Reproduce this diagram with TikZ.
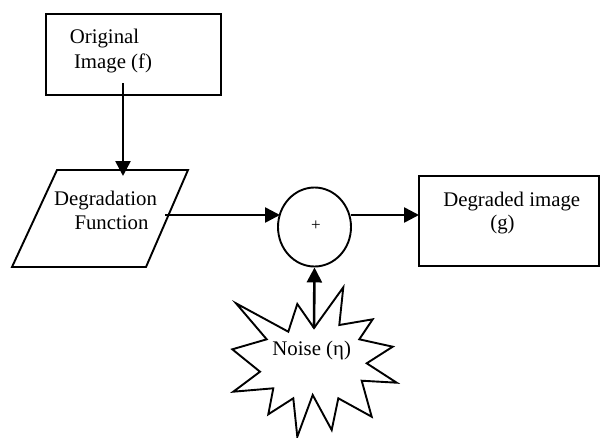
\documentclass[tikz,border=0pt]{standalone}
\usepackage{fontspec}
\setmainfont{Liberation Serif}
\usetikzlibrary{arrows.meta,shapes.geometric}
\begin{document}
\begin{tikzpicture}[x=1pt,y=-1pt,line width=1.9pt,
  lbl/.style={font=\fontsize{20.8}{25}\selectfont,inner sep=0pt,anchor=base},
  box/.style={draw,inner sep=0pt,outer sep=0pt,anchor=north west},
  arr/.style={-{Triangle[length=15pt,width=15pt]},line width=2.6pt}]
\useasboundingbox (0,0) rectangle (600,437);
% Original image box
\node[box,minimum width=175pt,minimum height=81pt] (orig) at (46,14) {};
\node[lbl] (origA) at (104.5,43) {Original};
\node[lbl] (origB) at (113,68) {Image (f)};
% Degradation parallelogram
\coordinate (dTL) at (57,170);
\coordinate (dTR) at (188,170);
\coordinate (dBR) at (146,267);
\coordinate (dBL) at (12,267);
\draw (dTL) -- (dTR) -- (dBR) -- (dBL) -- cycle;
\node[lbl] (degA) at (105.5,205.5) {Degradation};
\node[lbl] (degB) at (111.5,229) {Function};
% Summing junction
\node[draw,ellipse,minimum width=73pt,minimum height=79pt,inner sep=0pt] (sum) at (314.5,227) {};
\node[font=\fontsize{17}{19}\selectfont,inner sep=0pt] (plus) at (316,226) {+};
% Degraded image box
\node[box,minimum width=180pt,minimum height=90pt] (out) at (419,176) {};
\node[lbl] (outA) at (511.7,206.5) {Degraded image};
\node[lbl] (outB) at (502.5,229.5) {(g)};
% Noise star
\draw (314,328) -- (343.3,287.3) -- (339.3,325) -- (372.7,319.3) -- (359.3,339.3)
  -- (392.7,346.7) -- (366.7,363.3) -- (396.7,382.7) -- (361.7,380.7)
  -- (371.7,416.7) -- (338.3,398.3) -- (331.7,430) -- (312.7,395)
  -- (297.3,436.7) -- (293.3,398.3) -- (268.3,414.3) -- (273.3,388.3)
  -- (233.3,391.7) -- (260,371.7) -- (232.3,349.3) -- (266.7,339.3)
  -- (236,303.3) -- (288.3,331.7) -- (297.3,304) -- cycle;
\node[lbl] (noise) at (311.7,355) {Noise (η)};
% Connector end points
\coordinate (origOut) at (123,83);
\coordinate (degIn) at (123,176);
\coordinate (degOut) at (165,215);
\coordinate (sumIn) at (280,215);
\coordinate (sumOut) at (350.5,215);
\coordinate (outIn) at (419,215);
\coordinate (noiseTop) at (314,328);
% Connectors
\draw[arr] (origOut) -- (degIn);
\draw[arr] (degOut) -- (sumIn);
\draw[arr] (sumOut) -- (outIn);
\draw[arr] (noiseTop) -- (sum.south);
\end{tikzpicture}
\end{document}
